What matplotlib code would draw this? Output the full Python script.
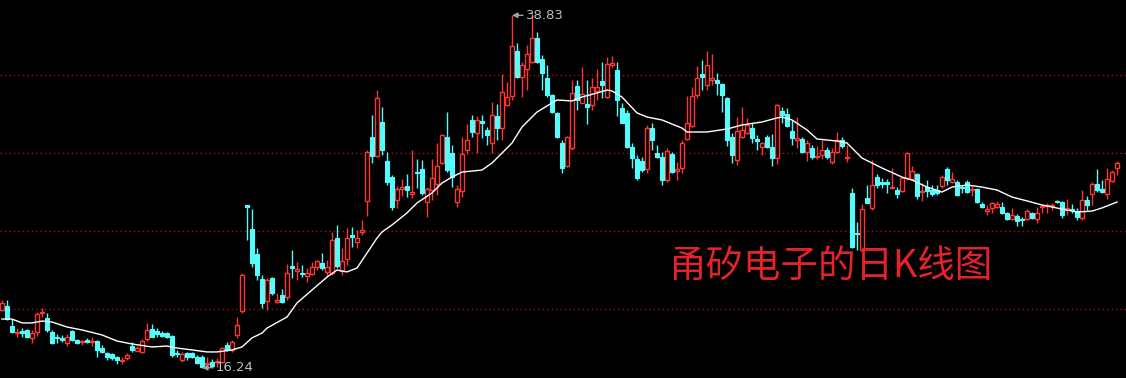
import matplotlib
matplotlib.use('Agg')
import matplotlib.pyplot as plt
import numpy as np

# daily K-line of 甬矽电子, prices
opens = [19.94, 20.20, 18.91, 18.46, 18.59, 18.66, 18.15, 18.53, 19.75, 19.43,
         18.53, 18.21, 18.15, 17.82, 18.59, 18.02, 17.89, 18.02, 17.89, 17.95,
         17.50, 17.18, 17.12, 16.93, 16.67, 16.86, 17.63, 17.31, 17.25, 18.08,
         18.72, 18.59, 18.46, 18.46, 18.27, 17.18, 16.73, 17.18, 17.18, 16.93,
         16.93, 16.50, 16.61, 16.61, 16.61, 17.70, 17.38, 18.34, 19.87, 26.67,
         25.13, 23.53, 21.93, 20.52, 21.99, 20.45, 20.90, 20.77, 22.76, 22.44,
         22.31, 22.12, 22.25, 22.69, 22.95, 22.38, 22.31, 24.55, 22.44, 23.21,
         24.75, 24.30, 24.94, 26.93, 31.03, 29.81, 31.99, 29.49, 28.46, 26.99,
         27.69, 27.89, 27.37, 28.78, 28.98, 26.86, 27.63, 28.01, 29.36, 31.03,
         30.00, 26.86, 27.57, 30.19, 32.12, 31.28, 32.05, 31.48, 30.64, 32.37,
         31.60, 33.08, 33.66, 36.54, 34.87, 35.39, 35.84, 37.37, 36.03, 34.81,
         33.72, 32.57, 30.64, 29.17, 30.32, 34.30, 33.21, 33.14, 33.08, 33.98,
         34.62, 33.59, 35.64, 35.32, 32.89, 32.57, 30.39, 29.62, 29.49, 28.98,
         31.60, 30.00, 29.75, 28.27, 29.94, 28.85, 29.04, 30.90, 31.73, 33.72,
         35.07, 34.36, 34.68, 34.68, 34.43, 33.53, 31.03, 29.55, 31.03, 31.28,
         31.60, 30.90, 30.39, 31.03, 30.39, 29.68, 32.70, 32.50, 31.41, 30.84,
         30.90, 30.07, 30.32, 29.75, 29.87, 30.19, 29.43, 30.07, 30.84, 29.68,
         27.44, 24.87, 23.78, 27.12, 26.48, 28.46, 28.14, 28.14, 27.76, 27.63,
         27.57, 28.40, 28.33, 28.66, 27.50, 27.82, 27.63, 27.63, 27.89, 28.98,
         28.14, 28.14, 27.82, 28.14, 27.63, 27.69, 26.73, 26.28, 26.48, 26.54,
         26.54, 26.16, 25.77, 25.96, 25.77, 25.77, 26.16, 25.77, 26.54, 26.60,
         26.60, 26.93, 26.86, 26.35, 26.41, 26.28, 25.84, 26.99, 27.37, 28.01,
         27.69, 27.37, 28.21, 29.04]

highs = [20.58, 20.58, 19.36, 18.78, 18.78, 18.72, 18.66, 19.81, 20.07, 19.75,
         18.66, 18.40, 18.34, 18.40, 18.66, 18.08, 18.02, 18.15, 18.21, 18.02,
         17.70, 17.25, 17.18, 16.99, 16.93, 17.18, 17.89, 17.63, 18.08, 19.11,
         19.04, 18.78, 18.59, 18.53, 18.34, 17.38, 17.25, 17.25, 17.25, 17.05,
         17.05, 16.93, 16.80, 16.86, 17.57, 17.89, 18.02, 19.49, 22.31, 26.70,
         26.41, 23.91, 22.18, 21.99, 22.05, 21.03, 21.29, 22.89, 23.78, 23.02,
         22.82, 22.63, 23.02, 23.14, 23.59, 23.14, 24.94, 25.39, 23.91, 25.19,
         25.26, 25.07, 25.71, 30.19, 32.44, 34.04, 32.95, 30.07, 28.59, 27.89,
         28.33, 28.66, 30.19, 29.62, 29.55, 27.82, 29.62, 30.64, 31.20, 32.63,
         30.51, 27.95, 31.03, 31.86, 32.44, 32.37, 32.44, 31.67, 33.27, 33.14,
         35.07, 34.55, 38.83, 37.05, 35.84, 36.92, 38.80, 37.76, 36.28, 35.64,
         33.78, 32.63, 30.83, 31.10, 34.68, 34.68, 35.51, 34.68, 34.81, 35.39,
         35.84, 36.16, 36.22, 35.84, 33.21, 32.76, 30.64, 29.87, 29.75, 31.80,
         31.93, 30.51, 30.07, 30.32, 30.07, 29.43, 30.83, 33.66, 34.23, 35.58,
         35.96, 36.54, 36.35, 35.13, 34.49, 33.60, 31.28, 32.31, 32.95, 32.25,
         31.93, 31.16, 30.71, 31.16, 31.22, 33.14, 32.95, 32.89, 32.12, 32.31,
         31.03, 30.83, 30.51, 30.45, 30.83, 30.39, 30.32, 31.35, 31.03, 30.51,
         27.76, 25.58, 26.73, 27.95, 29.55, 28.66, 28.40, 28.33, 29.04, 27.82,
         28.46, 30.07, 29.17, 28.72, 28.08, 28.27, 27.95, 27.95, 28.59, 29.10,
         28.78, 28.27, 27.95, 28.27, 27.89, 27.76, 26.86, 26.67, 26.86, 26.93,
         26.86, 26.22, 26.48, 26.09, 25.90, 26.41, 26.22, 26.54, 26.67, 26.80,
         26.80, 26.99, 26.93, 27.05, 26.73, 26.48, 27.63, 27.25, 28.14, 28.98,
         28.27, 29.04, 28.91, 29.49]

lows = [19.90, 19.30, 18.46, 18.21, 18.21, 18.15, 17.82, 18.27, 19.49, 18.53,
        17.76, 17.82, 17.89, 17.63, 17.98, 17.76, 17.70, 17.82, 17.63, 16.93,
        17.18, 16.73, 16.73, 16.48, 16.48, 16.73, 17.25, 17.28, 17.18, 17.95,
        18.18, 18.21, 18.21, 18.15, 16.93, 16.93, 16.61, 16.73, 16.86, 16.50,
        16.24, 16.29, 16.29, 16.29, 16.54, 17.31, 17.25, 18.15, 19.75, 24.43,
        22.69, 21.86, 20.07, 19.94, 20.90, 20.39, 20.40, 20.58, 21.99, 21.86,
        22.05, 21.73, 22.18, 22.50, 22.50, 22.05, 22.18, 22.63, 22.18, 22.82,
        23.98, 23.91, 24.75, 25.96, 29.36, 29.75, 29.87, 27.95, 26.35, 26.48,
        27.25, 27.18, 27.12, 27.76, 27.31, 25.90, 26.99, 27.31, 29.30, 28.78,
        27.82, 26.54, 27.18, 29.94, 31.03, 30.00, 30.96, 30.51, 30.00, 30.84,
        30.84, 33.01, 33.40, 34.81, 33.59, 34.04, 35.77, 35.77, 34.04, 33.59,
        32.57, 30.96, 28.72, 29.10, 30.19, 32.76, 33.18, 31.86, 32.76, 33.40,
        33.53, 33.53, 35.51, 32.37, 31.90, 30.32, 29.04, 28.27, 28.78, 28.72,
        30.19, 29.68, 27.95, 28.14, 28.72, 28.27, 28.72, 30.84, 31.67, 33.53,
        34.04, 34.04, 34.36, 33.72, 32.63, 30.45, 29.36, 29.23, 30.96, 31.22,
        30.64, 30.19, 29.87, 30.32, 29.17, 29.30, 31.93, 31.67, 30.51, 30.32,
        30.00, 29.49, 29.62, 29.62, 29.62, 29.62, 29.30, 30.00, 30.32, 29.43,
        23.91, 23.78, 23.66, 26.78, 26.35, 27.76, 27.76, 27.44, 27.74, 27.12,
        27.50, 28.27, 28.27, 27.05, 26.93, 27.18, 27.25, 27.31, 27.76, 27.95,
        28.08, 27.25, 27.44, 27.47, 27.25, 26.80, 26.48, 26.03, 26.16, 26.48,
        26.09, 25.71, 25.71, 25.32, 25.32, 25.71, 25.77, 25.52, 26.16, 26.16,
        26.35, 26.80, 25.84, 26.03, 26.16, 25.71, 25.71, 26.35, 26.67, 27.50,
        27.44, 27.05, 28.14, 28.59]

closes = [20.39, 19.36, 18.53, 18.53, 18.46, 18.21, 18.46, 19.68, 19.81, 18.66,
          17.82, 18.15, 18.02, 18.21, 18.02, 17.82, 17.95, 17.89, 17.95, 17.38,
          17.25, 16.93, 16.86, 16.73, 16.73, 17.05, 17.38, 17.50, 17.95, 18.66,
          18.21, 18.40, 18.27, 18.21, 17.05, 17.12, 17.12, 16.93, 16.93, 16.54,
          16.29, 16.56, 16.35, 16.67, 17.50, 17.38, 17.89, 18.98, 22.18, 26.54,
          22.95, 22.18, 20.39, 21.86, 21.03, 20.58, 20.45, 22.31, 22.63, 22.57,
          22.25, 22.31, 22.69, 23.08, 22.63, 22.69, 24.43, 22.76, 23.08, 24.55,
          24.62, 24.55, 25.07, 30.07, 29.81, 33.53, 30.19, 28.14, 26.54, 27.69,
          27.82, 27.63, 27.50, 28.72, 27.44, 27.69, 28.40, 29.17, 31.16, 28.91,
          28.46, 27.69, 29.94, 30.83, 31.35, 32.12, 31.93, 31.16, 32.44, 31.60,
          33.91, 33.59, 36.86, 34.87, 35.64, 36.35, 37.37, 35.84, 35.13, 33.72,
          32.63, 31.03, 29.04, 31.03, 33.85, 33.40, 33.78, 32.95, 34.23, 34.23,
          34.36, 35.71, 35.77, 33.40, 31.93, 30.39, 29.68, 28.40, 28.91, 31.60,
          30.83, 29.75, 28.27, 30.13, 28.78, 28.98, 30.64, 31.93, 33.66, 34.81,
          34.87, 35.64, 34.81, 34.49, 33.72, 30.83, 29.87, 31.41, 31.48, 31.80,
          30.96, 30.77, 30.64, 30.39, 29.68, 33.08, 32.44, 31.73, 30.96, 30.96,
          30.07, 30.64, 29.75, 29.81, 30.19, 29.75, 30.07, 30.84, 30.45, 29.75,
          23.98, 24.81, 26.41, 26.80, 27.95, 27.95, 28.01, 28.01, 27.82, 27.37,
          28.40, 30.00, 28.85, 27.25, 27.57, 27.57, 27.37, 27.44, 28.46, 28.27,
          28.33, 27.31, 27.76, 27.50, 27.69, 26.86, 26.54, 26.41, 26.80, 26.73,
          26.16, 25.77, 26.03, 25.64, 25.71, 26.28, 25.84, 26.16, 26.60, 26.67,
          26.67, 26.86, 26.03, 26.48, 26.35, 25.90, 26.99, 26.67, 28.01, 27.63,
          27.50, 28.33, 28.78, 29.36]

# moving average line (white), read at a set of candle positions
ma_idx = [0, 2, 4, 6, 8, 10, 13, 16, 20, 23, 26, 30, 33, 35, 38, 41, 43, 46, 48, 50,
          52, 53, 57, 59, 62, 65, 67, 69, 71, 73, 75, 76, 78, 81, 83, 86, 88, 90, 92, 96,
          98, 102, 104, 107, 110, 111, 114, 116, 119, 121, 122, 124, 127, 129, 132, 136,
          137, 141, 145, 148, 152, 155, 156, 158, 161, 163, 167, 169, 172, 176, 180, 182,
          185, 188, 190, 193, 196, 199, 202, 205, 208, 212, 215, 218, 220, 223]
ma_val = [19.36, 19.36, 19.11, 19.11, 19.23, 19.17, 18.85, 18.66, 18.34, 17.95, 17.76,
          17.57, 17.63, 17.50, 17.38, 17.25, 17.25, 17.38, 17.57, 18.15, 18.46, 18.78,
          19.49, 20.39, 21.22, 22.05, 22.50, 22.38, 22.63, 23.59, 24.55, 24.94, 25.39,
          26.16, 26.80, 27.44, 28.08, 28.46, 28.78, 28.91, 29.36, 30.64, 31.67, 32.63,
          33.21, 33.40, 33.34, 33.59, 33.85, 34.04, 33.98, 33.59, 32.57, 32.31, 32.12,
          31.60, 31.35, 31.35, 31.54, 31.80, 31.99, 32.25, 32.31, 32.12, 31.48, 30.90,
          30.77, 30.64, 29.68, 29.04, 28.46, 28.27, 27.82, 27.50, 27.82, 27.95, 27.82,
          27.63, 27.18, 26.93, 26.67, 26.41, 26.22, 26.28, 26.48, 26.86]

grid_levels = [20, 25, 30, 35]
title = '甬矽电子的日K线图'

up_color = '#ff3535'
down_color = '#54fcfc'

fig = plt.figure(figsize=(11.26, 3.78), dpi=100, facecolor='black')
ax = fig.add_axes([0, 0, 1, 1])
ax.set_facecolor('black')

for level in grid_levels:
    ax.axhline(level, color='#961818', lw=1, ls=(0, (1, 2.2)), zorder=0)

o = np.array(opens)
h = np.array(highs)
l = np.array(lows)
c = np.array(closes)
x = np.arange(len(o))
up = c >= o

bottom = np.minimum(o, c)
height = np.maximum(np.abs(c - o), 0.04)

# wicks first, bodies on top (red bodies are hollow)
ax.vlines(x[up], l[up], h[up], color=up_color, lw=1, zorder=2)
ax.vlines(x[~up], l[~up], h[~up], color=down_color, lw=1, zorder=2)
ax.bar(x[up], height[up], bottom=bottom[up], width=0.62,
       facecolor='black', edgecolor=up_color, lw=1, zorder=3)
ax.bar(x[~up], height[~up], bottom=bottom[~up], width=0.62,
       facecolor=down_color, edgecolor=down_color, lw=0.8, zorder=3)

ax.plot(ma_idx, ma_val, color='white', lw=1, zorder=4)

# max / min markers
hi = int(np.argmax(h))
lo = int(np.argmin(l))
arrow = dict(arrowstyle='-|>', color='#a0a0a0', lw=1, mutation_scale=8,
             shrinkA=0, shrinkB=0)
ax.annotate(f'{h[hi]:.2f}', xy=(hi, h[hi]), xytext=(10, 0), textcoords='offset points',
            va='center', ha='left', color='#b8c0cc', fontsize=9.5, arrowprops=arrow, zorder=5)
ax.annotate(f'{l[lo]:.2f}', xy=(lo, l[lo]), xytext=(10, 0), textcoords='offset points',
            va='center', ha='left', color='#b8c0cc', fontsize=9.5, arrowprops=arrow, zorder=5)

fig.text(668 / 1126, 1 - 266 / 378, title, color='#e3222a', fontsize=27,
         family=['Noto Sans CJK SC', 'DejaVu Sans'], va='center', ha='left')

ax.set_xlim(-0.4, 224.8)
ax.set_ylim(15.58, 39.81)
ax.axis('off')

fig.savefig('out.png', dpi=100, facecolor='black')
